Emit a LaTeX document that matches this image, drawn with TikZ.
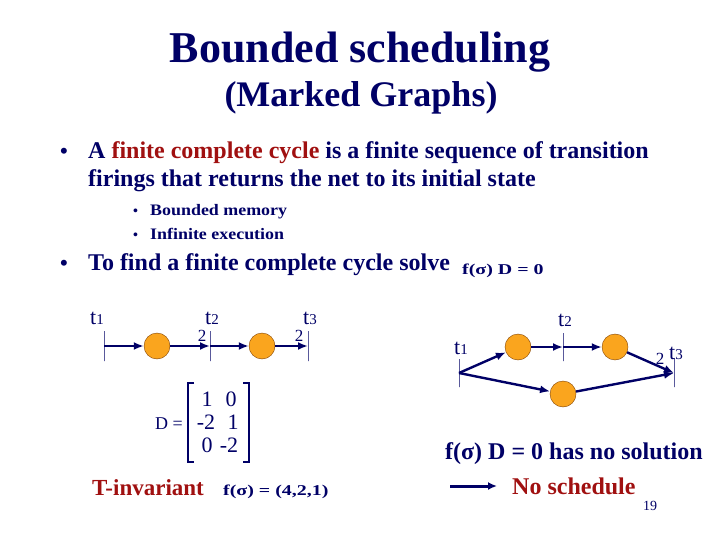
\documentclass[tikz,border=0pt]{standalone}
\usepackage{fontspec}
\setmainfont{Liberation Serif}
\newfontfamily\wideserif[FakeStretch=1.33]{Liberation Serif}
\newfontfamily\semiwideserif[FakeStretch=1.12]{Liberation Serif}
\usetikzlibrary{arrows.meta}
\usetikzlibrary{positioning}
\definecolor{navy}{RGB}{0,0,102}
\definecolor{darkred}{RGB}{160,16,16}
\definecolor{tokenorange}{RGB}{250,165,30}

\begin{document}
\begin{tikzpicture}[x=1pt,y=-1pt]
	 \tikzstyle{place}=[circle,draw=orange!50!black,fill=tokenorange,minimum size=26pt,inner sep=0pt]
	 \tikzstyle{trans}=[draw=navy,line width=0.8pt,minimum width=0pt,minimum height=30pt,inner sep=0pt]
	 \tikzstyle{arc}=[draw,line width=2.4pt,navy,-{Latex[length=10pt,width=8pt]}]
	 \tikzstyle{tlabel}=[navy,anchor=base,inner sep=0pt,font=\fontsize{22}{22}\selectfont]
	 \tikzstyle{weight}=[navy,anchor=base,inner sep=0pt,font=\fontsize{17}{17}\selectfont]
	 \tikzstyle{txt}=[navy,anchor=base west,inner sep=0pt]
	 \useasboundingbox (0,0) rectangle (720,540);

	 % title
	 \node[navy,anchor=base,inner sep=0pt,font=\fontsize{44}{44}\selectfont\bfseries] (title) at (360,63) {Bounded scheduling};
	 \node[navy,anchor=base,inner sep=0pt,font=\fontsize{36}{36}\selectfont\bfseries] (subtitle) at (361,107) {(Marked Graphs)};

	 % bullets
	 \node[txt,font=\fontsize{22}{22}\selectfont\bfseries] (b1) at (60,159) {•};
	 \node[txt,font=\fontsize{24}{24}\selectfont\bfseries] (l1) at (88,159) {A \textcolor{darkred}{finite complete cycle} is a finite sequence of transition};
	 \node[txt,font=\fontsize{24}{24}\selectfont\bfseries] (l2) at (88,187) {firings that returns the net to its initial state};
	 \node[txt,font=\fontsize{14}{14}\selectfont\bfseries] (d1) at (133,215) {•};
	 \node[txt,font=\fontsize{16}{16}\selectfont\semiwideserif\bfseries] (s1) at (150,215) {Bounded memory};
	 \node[txt,font=\fontsize{14}{14}\selectfont\bfseries] (d2) at (133,240) {•};
	 \node[txt,font=\fontsize{16}{16}\selectfont\semiwideserif\bfseries] (s2) at (150,240) {Infinite execution};
	 \node[txt,font=\fontsize{22}{22}\selectfont\bfseries] (b2) at (60,270) {•};
	 \node[txt,font=\fontsize{24}{24}\selectfont\bfseries] (l3) at (88,270) {To find a finite complete cycle solve};
	 \node[txt,font=\fontsize{15}{15}\selectfont\wideserif\bfseries] (eq1) at (462,274) {f(σ) D = 0};

	 % left net
	 \node[trans] (t1) at (104,346) {};
	 \node[place] (p1) at (157,346) {};
	 \node[trans] (t2) at (210,346) {};
	 \node[place] (p2) at (262,346) {};
	 \node[trans] (t3) at (308,346) {};
	 \node[tlabel] (lt1) at (97,324) {t{\fontsize{15}{15}\selectfont 1}};
	 \node[tlabel] (lt2) at (212,324) {t{\fontsize{15}{15}\selectfont 2}};
	 \node[tlabel] (lt3) at (310,324) {t{\fontsize{15}{15}\selectfont 3}};
	 \node[weight] (w2) at (202,341) {2};
	 \node[weight] (w3) at (299,341) {2};
	 \draw[arc] (t1.center) -- (p1);
	 \draw[arc] (p1) -- (t2.center);
	 \draw[arc] (t2.center) -- (p2);
	 \draw[arc] (p2) -- (t3.center);

	 % incidence matrix
	 \node[navy,anchor=base east,inner sep=0pt,font=\fontsize{18}{18}\selectfont] (deq) at (183,429) {D =};
	 \draw[navy,line width=2.2pt] (194,383) -- (188,383) -- (188,462) -- (194,462);
	 \draw[navy,line width=2.2pt] (243,383) -- (249,383) -- (249,462) -- (243,462);
	 \node[navy,anchor=base,inner sep=0pt,font=\fontsize{22}{22}\selectfont] (m11) at (207,406) {1};
	 \node[navy,anchor=base,inner sep=0pt,font=\fontsize{22}{22}\selectfont] (m12) at (231,406) {0};
	 \node[navy,anchor=base,inner sep=0pt,font=\fontsize{22}{22}\selectfont] (m21) at (206,429) {-2};
	 \node[navy,anchor=base,inner sep=0pt,font=\fontsize{22}{22}\selectfont] (m22) at (233,429) {1};
	 \node[navy,anchor=base,inner sep=0pt,font=\fontsize{22}{22}\selectfont] (m31) at (207,452) {0};
	 \node[navy,anchor=base,inner sep=0pt,font=\fontsize{22}{22}\selectfont] (m32) at (229,452) {-2};
	 \node[anchor=base west,inner sep=0pt,darkred,font=\fontsize{23}{23}\selectfont\bfseries] (tinv) at (92,495) {T-invariant};
	 \node[txt,font=\fontsize{15}{15}\selectfont\wideserif\bfseries] (fs) at (223,495) {f(σ) = (4,2,1)};

	 % right net
	 \node[trans,minimum height=28pt] (r1) at (459,373) {};
	 \node[place] (pa) at (518,347) {};
	 \node[trans,minimum height=28pt] (r2) at (563,347) {};
	 \node[place] (pb) at (615,347) {};
	 \node[trans,minimum height=28pt] (r3) at (674,373) {};
	 \node[place] (pc) at (563,394) {};
	 \node[tlabel] (lr1) at (461,354) {t{\fontsize{15}{15}\selectfont 1}};
	 \node[tlabel] (lr2) at (565,326) {t{\fontsize{15}{15}\selectfont 2}};
	 \node[tlabel] (lr3) at (676,359) {t{\fontsize{15}{15}\selectfont 3}};
	 \node[weight] (wr3) at (660,364) {2};
	 \draw[arc] (r1.center) -- (pa);
	 \draw[arc] (pa) -- (r2.center);
	 \draw[arc] (r2.center) -- (pb);
	 \draw[arc] (pb) -- (r3.center);
	 \draw[arc] (r1.center) -- (pc);
	 \draw[arc] (pc) -- (r3.center);

	 % conclusion
	 \node[txt,font=\fontsize{24}{24}\selectfont\bfseries] (nosol) at (445,459) {f(σ) D = 0 has no solution};
	 \coordinate (as) at (450,486);
	 \coordinate (ae) at (497,486);
	 \draw[line width=3pt,navy,-{Latex[length=9pt,width=8pt]}] (as) -- (ae);
	 \node[anchor=base west,inner sep=0pt,darkred,font=\fontsize{24}{24}\selectfont\bfseries] (nosched) at (512,494) {No schedule};
	 \node[txt,font=\fontsize{14}{14}\selectfont] (pg) at (643,510) {19};
\end{tikzpicture}
\end{document}
